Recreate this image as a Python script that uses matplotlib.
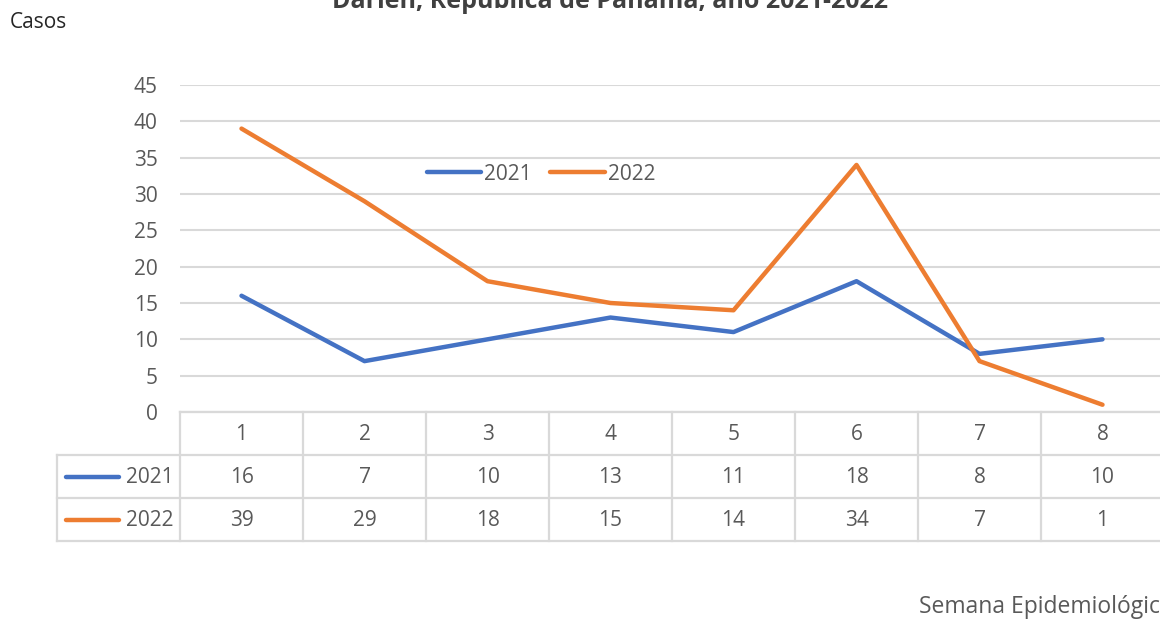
import matplotlib
matplotlib.use("Agg")
import matplotlib.pyplot as plt

weeks = ["1", "2", "3", "4", "5", "6", "7", "8"]
cases_2021 = [16, 7, 10, 13, 11, 18, 8, 10]
cases_2022 = [39, 29, 18, 15, 14, 34, 7, 1]
series_names = ["2021", "2022"]
yticks = [0, 5, 10, 15, 20, 25, 30, 35, 40, 45]

title = "Darién, República de Panamá, año 2021-2022"
ylabel = "Casos"
xlabel = "Semana Epidemiológic"

C_BLUE = "#4472C4"
C_ORANGE = "#ED7D31"
C_TEXT = "#595959"
C_GRID = "#D9D9D9"
FONT = "Open Sans"
FS = 15

W, H = 1160, 621
fig = plt.figure(figsize=(W / 100, H / 100), dpi=100)

def fx(px):
    return px / W

def fy(py):
    return 1 - py / H

# main axes
ax_l, ax_r, ax_t, ax_b = 180, 1164, 85, 412
ax = fig.add_axes([fx(ax_l), fy(ax_b), fx(ax_r - ax_l), (ax_b - ax_t) / H])
n = len(weeks)
xs = [i + 0.5 for i in range(n)]
l1, = ax.plot(xs, cases_2021, color=C_BLUE, lw=3.2, solid_capstyle="round", solid_joinstyle="round")
l2, = ax.plot(xs, cases_2022, color=C_ORANGE, lw=3.2, solid_capstyle="round", solid_joinstyle="round")
ax.set_xlim(0, n)
ax.set_ylim(0, 45)
ax.set_yticks(yticks)
ax.set_yticklabels([str(v) for v in yticks], fontsize=FS, color=C_TEXT, family=FONT)
ax.tick_params(axis="y", length=0, pad=16)
ax.set_xticks([])
ax.grid(axis="y", color=C_GRID, lw=1.5)
ax.set_axisbelow(True)
for s in ["top", "right", "left"]:
    ax.spines[s].set_visible(False)
ax.spines["bottom"].set_color(C_GRID)
ax.spines["bottom"].set_linewidth(1.5)

leg = ax.legend([l1, l2], series_names, loc="center",
                bbox_to_anchor=((541 - ax_l) / (ax_r - ax_l), (ax_b - 174) / (ax_b - ax_t)),
                ncol=2, frameon=False, prop={"family": FONT, "size": FS}, handlelength=2.6,
                columnspacing=0.9, handletextpad=0.15)
for t in leg.get_texts():
    t.set_color(C_TEXT)

# table axes
t_l, t_r, t_t, t_b = 57, 1164, 412, 541
tax = fig.add_axes([fx(t_l), fy(t_b), fx(t_r - t_l), (t_b - t_t) / H])
tax.set_xlim(-1, n)
tax.set_ylim(3, 0)
tax.axis("off")
lkw = dict(color=C_GRID, lw=1.6, clip_on=False)
tax.plot([0, n], [0, 0], **lkw)
for yy in [1, 2, 3]:
    tax.plot([-1, n], [yy, yy], **lkw)
for xx in range(0, n + 1):
    tax.plot([xx, xx], [0, 3], **lkw)
tax.plot([-1, -1], [1, 3], **lkw)
for i, w in enumerate(weeks):
    tax.text(i + 0.5, 0.52, w, ha="center", va="center", fontsize=FS, color=C_TEXT, family=FONT)
for r, (vals, col, name) in enumerate([(cases_2021, C_BLUE, series_names[0]),
                                       (cases_2022, C_ORANGE, series_names[1])]):
    yy = r + 1.52
    for i, v in enumerate(vals):
        tax.text(i + 0.5, yy, str(v), ha="center", va="center", fontsize=FS, color=C_TEXT, family=FONT)
    tax.plot([-0.93, -0.5], [yy - 0.02, yy - 0.02], color=col, lw=3.2, solid_capstyle="round", clip_on=False)
    tax.text(-0.05, yy, name, ha="right", va="center", fontsize=FS, color=C_TEXT, family=FONT)

fig.text(fx(10), fy(23), ylabel, ha="left", va="center", fontsize=15, color="#262626", family=FONT)
fig.text(fx(1160), fy(607), xlabel, ha="right", va="center", fontsize=16.5, color=C_TEXT, family=FONT)
fig.text(fx(610), fy(8), title, ha="center", va="baseline", fontsize=18, fontweight="bold",
         color="#404040", family=FONT)

fig.savefig("out.png", dpi=100)
